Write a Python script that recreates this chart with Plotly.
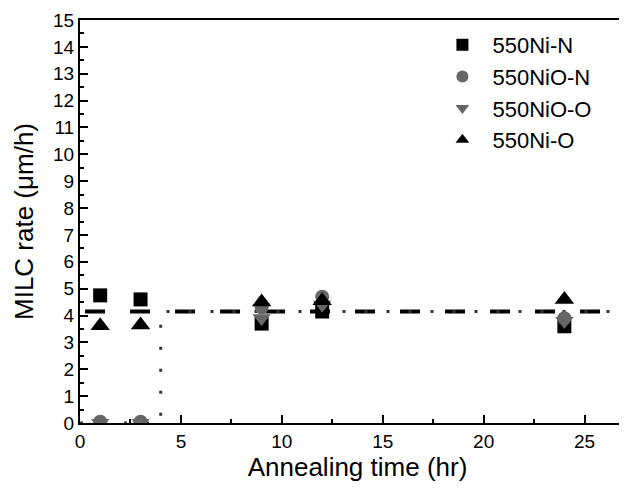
import plotly.graph_objects as go

# annealing times (hr) and MILC rates (um/h)
times = [1, 3, 9, 12, 24]
ni_n = [4.75, 4.6, 3.7, 4.15, 3.6]
nio_n = [0.05, 0.05, 4.3, 4.7, 3.9]
nio_o = [0.0, 0.0, 3.9, 4.4, 3.8]
ni_o = [3.62, 3.65, 4.5, 4.55, 4.6]

# guide lines
ni_guide_x = [0.25, 27.5]
ni_guide_y = [4.15, 4.15]
nio_guide_x = [0, 4, 4, 27.5]
nio_guide_y = [0, 0, 4.15, 4.15]

FONT = "Liberation Sans, Arial, sans-serif"

fig = go.Figure()

# guide lines first so markers draw on top
fig.add_trace(go.Scatter(x=ni_guide_x, y=ni_guide_y, mode="lines",
                         line=dict(color="black", width=4, dash="20px,25px"),
                         showlegend=False, hoverinfo="skip"))
fig.add_trace(go.Scatter(x=nio_guide_x, y=nio_guide_y, mode="lines",
                         line=dict(color="#333333", width=3, dash="3px,19px"),
                         showlegend=False, hoverinfo="skip"))

series = [
    ("550Ni-N", ni_n, "square", "black", 14),
    ("550NiO-N", nio_n, "circle", "#666666", 14),
    ("550NiO-O", nio_o, "triangle-down", "#666666", 16),
    ("550Ni-O", ni_o, "triangle-up", "black", 17),
]
for name, ys, sym, col, sz in series:
    fig.add_trace(go.Scatter(x=times, y=ys, mode="markers", name=name,
                             marker=dict(symbol=sym, color=col, size=sz,
                                         line=dict(width=0))))

fig.update_layout(
    width=627, height=495,
    margin=dict(l=72, r=0, t=12, b=80),
    plot_bgcolor="white", paper_bgcolor="white",
    font=dict(family=FONT, color="black", size=19),
    legend=dict(x=0.635, y=0.99, xanchor="left", yanchor="top",
                font=dict(size=22), bgcolor="rgba(0,0,0,0)",
                itemsizing="constant", itemwidth=50, tracegroupgap=0),
    xaxis=dict(range=[0, 27.5], tickvals=[0, 5, 10, 15, 20, 25],
               ticks="inside", ticklen=8, tickwidth=1.5, tickcolor="black",
               minor=dict(dtick=2.5, ticks="inside", ticklen=4, tickcolor="black"),
               showline=True, linecolor="black", linewidth=2, mirror=True,
               showgrid=False, zeroline=False,
               title=dict(text="Annealing time (hr)", font=dict(size=26), standoff=4),
               tickfont=dict(size=19)),
    yaxis=dict(range=[0, 15], dtick=1,
               ticks="inside", ticklen=8, tickwidth=1.5, tickcolor="black",
               minor=dict(dtick=0.5, ticks="inside", ticklen=4, tickcolor="black"),
               showline=True, linecolor="black", linewidth=2, mirror=False,
               showgrid=False, zeroline=False,
               title=dict(text="MILC rate (μm/h)", font=dict(size=26), standoff=12),
               tickfont=dict(size=19)),
)

fig.write_html("out.html")
